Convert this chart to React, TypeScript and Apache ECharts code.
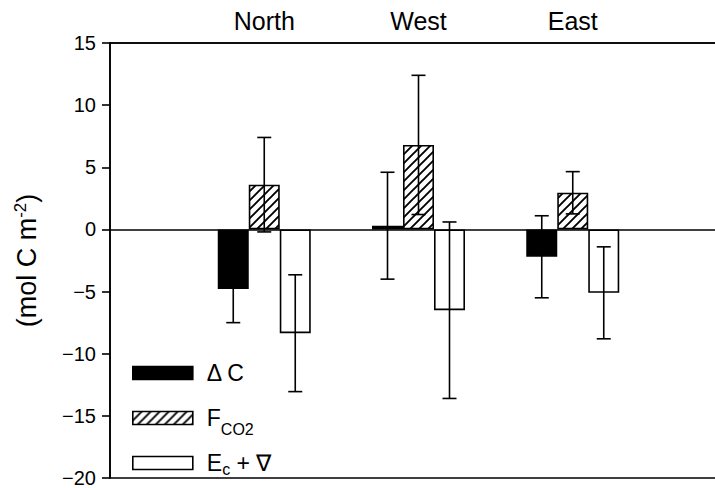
import React, { useEffect, useRef } from 'react';
import * as echarts from 'echarts';

// ---- data ----
const categories = ['North', 'West', 'East'];
const deltaC = [-4.8, 0.3, -2.2];
const deltaCErr = [2.7, 4.3, 3.3];
const fco2 = [3.6, 6.8, 2.95];
const fco2Err = [3.8, 5.6, 1.7];
const ecv = [-8.35, -6.5, -5.1];
const ecvErr = [4.7, 7.1, 3.7];
const yMin = -20;
const yMax = 15;
const yStep = 5;
const seriesNames = ['ΔC', 'FCO2', 'Ec+∇'];

const FONT = "'Liberation Sans', Arial, Helvetica, sans-serif";
const BAR_W = 31;

function makeHatch(size: number, lw: number) {
  const c = document.createElement('canvas');
  c.width = size;
  c.height = size;
  const ctx = c.getContext('2d')!;
  ctx.fillStyle = '#fff';
  ctx.fillRect(0, 0, size, size);
  ctx.strokeStyle = '#000';
  ctx.lineWidth = lw;
  ctx.beginPath();
  ctx.moveTo(-1, size + 1);
  ctx.lineTo(size + 1, -1);
  ctx.moveTo(-2, 2);
  ctx.lineTo(2, -2);
  ctx.moveTo(size - 2, size + 2);
  ctx.lineTo(size + 2, size - 2);
  ctx.stroke();
  return { image: c, repeat: 'repeat', imageWidth: size, imageHeight: size };
}

function errSeries(vals: number[], errs: number[], offset: number) {
  return {
    type: 'custom',
    silent: true,
    z: 10,
    encode: { x: 0, y: [1, 2] },
    data: vals.map((v, i) => [i + 1, v - errs[i], v + errs[i]]),
    renderItem: (params: any, api: any) => {
      const hi = api.coord([api.value(0), api.value(2)]);
      const lo = api.coord([api.value(0), api.value(1)]);
      const x = hi[0] + offset;
      const st = { stroke: '#000', lineWidth: 1.6 };
      return {
        type: 'group',
        children: [
          { type: 'line', shape: { x1: x, y1: hi[1], x2: x, y2: lo[1] }, style: st },
          { type: 'line', shape: { x1: x - 7, y1: hi[1], x2: x + 7, y2: hi[1] }, style: st },
          { type: 'line', shape: { x1: x - 7, y1: lo[1], x2: x + 7, y2: lo[1] }, style: st },
        ],
      };
    },
  };
}

export default function App() {
  const ref = useRef<HTMLDivElement>(null);
  useEffect(() => {
    const chart = echarts.init(ref.current!, null, { renderer: 'svg' });
    const hatch = makeHatch(9, 1.9);
    const axisCats = ['', ...categories, ''];
    const blackLine = { color: '#000', width: 1.6 };
    const option: any = {
      animation: false,
      backgroundColor: '#fff',
      grid: {
        left: 110,
        top: 43,
        width: 617,
        height: 437,
        show: true,
        borderColor: '#000',
        borderWidth: 1.6,
        backgroundColor: 'transparent',
      },
      xAxis: {
        type: 'category',
        position: 'top',
        data: axisCats,
        boundaryGap: false,
        axisLine: { show: true, onZero: false, lineStyle: blackLine },
        axisTick: { show: false },
        axisLabel: { color: '#000', fontSize: 25, fontFamily: FONT, margin: 10, interval: 0 },
        splitLine: { show: false },
      },
      yAxis: {
        type: 'value',
        min: yMin,
        max: yMax,
        interval: yStep,
        axisLine: { show: true, lineStyle: blackLine },
        axisTick: { show: true, length: 8, lineStyle: blackLine },
        axisLabel: {
          color: '#000',
          fontSize: 20,
          fontFamily: FONT,
          margin: 14,
          formatter: (v: number) => String(v).replace('-', '\u2212'),
        },
        splitLine: { show: false },
        name: '{a|(mol C m}{s|-2}{a|)}',
        nameLocation: 'middle',
        nameGap: 68,
        nameRotate: 90,
        nameTextStyle: {
          rich: {
            a: { fontSize: 27, fontFamily: FONT, color: '#000', lineHeight: 30 },
            s: { fontSize: 17, fontFamily: FONT, color: '#000', lineHeight: 30, verticalAlign: 'top' },
          },
        },
      },
      legend: {
        orient: 'vertical',
        left: 127,
        top: 353,
        itemWidth: 60,
        itemHeight: 13,
        itemGap: 11,
        selectedMode: false,
        icon: 'rect',
        data: seriesNames,
        itemStyle: { borderColor: '#000', borderWidth: 1.6 },
        formatter: (name: string) => {
          if (name === seriesNames[0]) return '{m|Δ C}';
          if (name === seriesNames[1]) return '{m|F}{s1|CO2}';
          return '{m|E}{s2|c}{m| + ∇}';
        },
        textStyle: {
          color: '#000',
          fontFamily: FONT,
          fontSize: 23,
          lineHeight: 30,
          padding: [0, 0, 0, 9],
          rich: {
            m: { fontSize: 23, fontFamily: FONT, color: '#000', lineHeight: 30 },
            s1: { fontSize: 16, fontFamily: FONT, color: '#000', lineHeight: 30, padding: [22, 0, 0, 0] },
            s2: { fontSize: 16, fontFamily: FONT, color: '#000', lineHeight: 30, padding: [12, 0, 0, 0] },
          },
        },
      },
      series: [
        {
          name: seriesNames[0],
          type: 'bar',
          data: deltaC.map((v, i) => [i + 1, v]),
          barWidth: BAR_W,
          barGap: '0%',
          itemStyle: { color: '#000', borderColor: '#000', borderWidth: 1.6 },
          markLine: {
            silent: true,
            symbol: 'none',
            label: { show: false },
            lineStyle: { color: '#000', width: 1.6, type: 'solid' },
            data: [{ yAxis: 0 }],
          },
        },
        {
          name: seriesNames[1],
          type: 'bar',
          data: fco2.map((v, i) => [i + 1, v]),
          barWidth: BAR_W,
          barGap: '0%',
          itemStyle: { color: hatch, borderColor: '#000', borderWidth: 1.6 },
        },
        {
          name: seriesNames[2],
          type: 'bar',
          data: ecv.map((v, i) => [i + 1, v]),
          barWidth: BAR_W,
          barGap: '0%',
          itemStyle: { color: '#fff', borderColor: '#000', borderWidth: 1.6 },
        },
        errSeries(deltaC, deltaCErr, -BAR_W),
        errSeries(fco2, fco2Err, 0),
        errSeries(ecv, ecvErr, BAR_W),
      ],
    };
    chart.setOption(option);
    return () => chart.dispose();
  }, []);
  return (
    <div
      style={{ position: 'fixed', left: 0, top: 0, width: 715, height: 488, overflow: 'hidden', background: '#fff' }}
    >
      <div ref={ref} style={{ width: 760, height: 488 }} />
    </div>
  );
}
